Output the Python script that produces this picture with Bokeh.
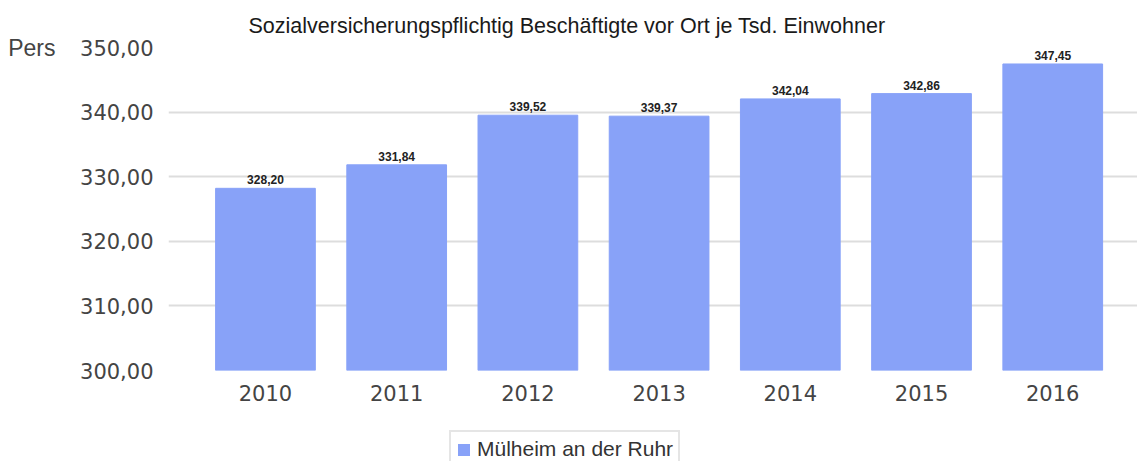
from bokeh.plotting import figure
from bokeh.layouts import column
from bokeh.models import (ColumnDataSource, Range1d, FixedTicker, LabelSet, LinearAxis,
                          Legend, LegendItem, CustomJSTickFormatter)
from bokeh.core.properties import value
from bokeh.embed import file_html
from bokeh.resources import INLINE

years = ["2010", "2011", "2012", "2013", "2014", "2015", "2016"]
values = [328.20, 331.84, 339.52, 339.37, 342.04, 342.86, 347.45]
series_name = "Mülheim an der Ruhr"
y_ticks = [300, 310, 320, 330, 340, 350]
title_text = "Sozialversicherungspflichtig Beschäftigte vor Ort je Tsd. Einwohner"
unit_text = "Pers"

BAR_COLOR = "#88A2F8"
xs = list(range(len(years)))
labels = [f"{v:.2f}".replace(".", ",") for v in values]
src = ColumnDataSource(dict(x=xs, top=values, lab=labels))

p = figure(x_range=Range1d(-0.739, 6.646), y_range=Range1d(300, 350),
           frame_width=969, frame_height=323, output_backend="svg", toolbar_location=None,
           min_border_left=168, min_border_right=0, min_border_top=47, min_border_bottom=48,
           title=title_text)
p.outline_line_color = None
p.background_fill_color = "white"
p.title.align = "left"
p.title.offset = 80
p.title.standoff = 20
p.title.text_font = "Liberation Sans"
p.title.text_font_size = "21.5px"
p.title.text_font_style = "normal"
p.title.text_color = "#1a1a1a"

bars = p.vbar(x="x", top="top", bottom=300, width=0.76, source=src,
              fill_color=BAR_COLOR, line_color=BAR_COLOR)

p.add_layout(LabelSet(x="x", y="top", text="lab", source=src, y_offset=4,
                      text_align="center", text_baseline="bottom",
                      text_font=value("Liberation Sans"), text_font_size=value("12px"),
                      text_font_style="bold", text_color="#222222"))

p.xaxis.ticker = FixedTicker(ticks=xs)
p.xaxis.major_label_overrides = {i: y for i, y in zip(xs, years)}
p.yaxis.ticker = FixedTicker(ticks=y_ticks)
p.yaxis.formatter = CustomJSTickFormatter(code="return tick.toFixed(2).replace('.', ',');")

unit_axis = LinearAxis(ticker=FixedTicker(ticks=[y_ticks[-1]]),
                       major_label_overrides={y_ticks[-1]: unit_text})
p.add_layout(unit_axis, "left")

for ax in (p.xaxis[0], p.yaxis[0], unit_axis):
    ax.axis_line_color = None
    ax.major_tick_line_color = None
    ax.minor_tick_line_color = None
    ax.major_label_text_font = "DejaVu Sans"
    ax.major_label_text_font_size = "21px"
    ax.major_label_text_color = "#444444"
unit_axis.major_label_text_font = "Liberation Sans"
unit_axis.major_label_text_font_size = "23px"
unit_axis.major_label_standoff = 16
p.yaxis[0].major_label_standoff = 9
p.xaxis.major_label_standoff = 8
p.xgrid.grid_line_color = None
p.ygrid.grid_line_color = "#dddddd"
p.ygrid.grid_line_width = 2

# legend strip below the chart (its swatch renderer lies far outside the strip's y range)
p2 = figure(width=1137, height=43, output_backend="svg", toolbar_location=None,
            min_border=0, x_range=Range1d(-0.739, 6.646), y_range=Range1d(1000, 1001))
p2.axis.visible = False
p2.grid.visible = False
p2.outline_line_color = None
swatch = p2.vbar(x="x", top="top", bottom=300, width=0.76, source=src,
                 fill_color=BAR_COLOR, line_color=None)
legend = Legend(items=[LegendItem(label=series_name, renderers=[swatch])],
                location=(281, -7), orientation="horizontal",
                label_text_font="Liberation Sans", label_text_font_size="21px",
                label_text_color="#333333", glyph_width=15, glyph_height=15,
                label_standoff=6, padding=5, border_line_color="#cccccc",
                border_line_width=2, background_fill_alpha=1.0, margin=0)
p2.add_layout(legend)

layout = column(p, p2, spacing=0)
open("out.html", "w").write(file_html(layout, INLINE))
